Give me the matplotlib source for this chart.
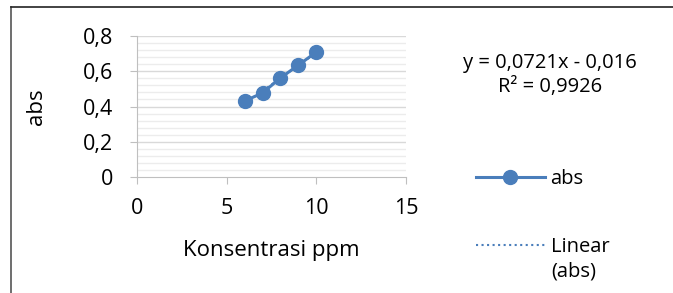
import matplotlib
matplotlib.use("Agg")
import matplotlib.pyplot as plt
import numpy as np
from matplotlib.lines import Line2D

x = [6, 7, 8, 9, 10]
y = [0.431, 0.477, 0.562, 0.635, 0.709]
slope, intercept = 0.0721, -0.016
eq_text = "y = 0,0721x - 0,016\nR² = 0,9926"
xticks = [0, 5, 10, 15]
xticklabels = ["0", "5", "10", "15"]
yticks = [0, 0.2, 0.4, 0.6, 0.8]
yticklabels = ["0", "0,2", "0,4", "0,6", "0,8"]

plt.rcParams['font.family'] = ['Open Sans', 'DejaVu Sans']
color = '#4a7ebb'

fig = plt.figure(figsize=(6.73, 2.93), dpi=100)
ax = fig.add_axes([137/673, 1-177/293, (406-137)/673, (177-36)/293])

ax.set_xlim(0, 15)
ax.set_ylim(0, 0.8)
for v in np.arange(0.04, 0.8, 0.04):
    if abs(v/0.2 - round(v/0.2)) > 1e-6:
        ax.axhline(v, color='#ececec', lw=1.0, zorder=0)
for v in yticks[1:]:
    ax.axhline(v, color='#d9d9d9', lw=1.0, zorder=0)

ln, = ax.plot(x, y, '-o', color=color, lw=2.2, ms=10, zorder=3, label='abs')
xf = np.array([min(x), max(x)])
tr, = ax.plot(xf, slope*xf + intercept, ':', color=color, lw=1.5, zorder=2, label='Linear')

ax.set_xticks(xticks)
ax.set_xticklabels(xticklabels)
ax.set_yticks(yticks)
ax.set_yticklabels(yticklabels)
for s in ['top', 'right']:
    ax.spines[s].set_visible(False)
for s in ['left', 'bottom']:
    ax.spines[s].set_color('#bfbfbf')
ax.tick_params(direction='out', length=5, color='#bfbfbf', labelsize=15.5, pad=12)
ax.tick_params(axis='x', pad=10)
ax.set_xlabel('Konsentrasi ppm', fontsize=16, labelpad=15)
ax.set_ylabel('abs', fontsize=16, labelpad=26)

fig.text(550/673, 1-75/293, eq_text, ha='center', va='center', fontsize=14.5, linespacing=1.3)

leg = fig.legend(handles=[ln, tr], loc='upper left', bbox_to_anchor=(468/673, 1-161/293),
                 frameon=False, fontsize=14.5, handlelength=3.4, labelspacing=2.4,
                 handletextpad=0.3, borderaxespad=0)
fig.text(551/673, 1-272/293, '(abs)', ha='left', va='center', fontsize=14.5)

# outer chart frame (left and top edges)
fig.add_artist(Line2D([11/673, 11/673], [0, 1-7/293], color='#555555', lw=1.2))
fig.add_artist(Line2D([11/673, 1], [1-7/293, 1-7/293], color='#222222', lw=1.2))

fig.savefig('out.png', dpi=100)
